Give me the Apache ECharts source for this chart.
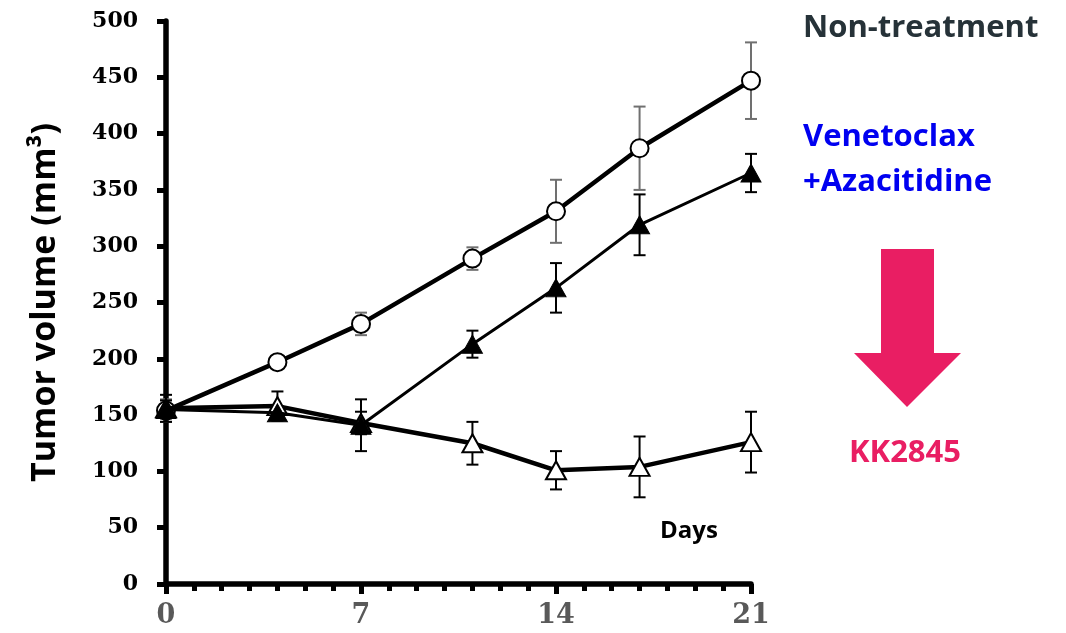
<!DOCTYPE html>
<html>
<head>
<meta charset="utf-8">
<script src="https://cdn.jsdelivr.net/npm/echarts@6/dist/echarts.min.js"></script>
<style>html,body{margin:0;padding:0;background:#fff;}#chart{width:1066px;height:633px;}</style>
</head>
<body>
<div id="chart"></div>
<script>
// Data
var days = [0, 4, 7, 11, 14, 17, 21];
var ntMean = [154, 197, 231, 289, 331, 387, 447];
var ntErr  = [10, 5, 10, 10, 28, 37, 34];
var vaMean = [155, 152, 141, 213, 263, 319, 365];
var vaErr  = [8, 6, 23, 12, 22, 27, 17];
var kkMean = [156, 158, 143, 125, 101, 104, 126];
var kkErr  = [12, 13, 10, 19, 17, 27, 27];
var yTicks = [0, 50, 100, 150, 200, 250, 300, 350, 400, 450, 500];
var xTicks = [0, 7, 14, 21];
var seriesNames = ['Non-treatment', 'Venetoclax\n+Azacitidine', 'KK2845'];

function pairs(m) { return days.map(function (d, i) { return [d, m[i]]; }); }
function errData(m, e) { return days.map(function (d, i) { return [d, m[i] - e[i], m[i] + e[i]]; }); }

function errSeries(m, e, color) {
  return {
    type: 'custom',
    data: errData(m, e),
    z: 1,
    silent: true,
    renderItem: function (params, api) {
      var x = api.value(0);
      var lo = api.coord([x, api.value(1)]);
      var hi = api.coord([x, api.value(2)]);
      var hw = 6;
      var st = { stroke: color, lineWidth: 2 };
      return {
        type: 'group',
        children: [
          { type: 'line', shape: { x1: lo[0], y1: lo[1], x2: hi[0], y2: hi[1] }, style: st },
          { type: 'line', shape: { x1: lo[0] - hw, y1: lo[1], x2: lo[0] + hw, y2: lo[1] }, style: st },
          { type: 'line', shape: { x1: hi[0] - hw, y1: hi[1], x2: hi[0] + hw, y2: hi[1] }, style: st }
        ]
      };
    }
  };
}

var chart = echarts.init(document.getElementById('chart'));
var option = {
  backgroundColor: '#fff',
  animation: false,
  grid: { left: 166, right: 315, top: 21, bottom: 49 },
  xAxis: {
    type: 'value', min: xTicks[0], max: xTicks[xTicks.length - 1], interval: 7,
    axisLine: { show: true, lineStyle: { color: '#000', width: 5.5 } },
    axisTick: { show: true, length: 10, lineStyle: { color: '#000', width: 5 } },
    minorTick: { show: true, splitNumber: 7, length: 7, lineStyle: { color: '#000', width: 5 } },
    splitLine: { show: false },
    axisLabel: { color: '#595959', fontFamily: 'DejaVu Serif', fontWeight: 'bold', fontSize: 27, margin: 18 }
  },
  yAxis: {
    type: 'value', min: yTicks[0], max: yTicks[yTicks.length - 1], interval: 50,
    name: 'Tumor volume (mm³)', nameLocation: 'middle', nameRotate: 90, nameGap: 104,
    nameTextStyle: { color: '#000', fontFamily: 'Open Sans', fontWeight: 'bold', fontSize: 34 },
    axisLine: { show: true, lineStyle: { color: '#000', width: 5.5 } },
    axisTick: { show: true, length: 9, lineStyle: { color: '#000', width: 5 } },
    splitLine: { show: false },
    axisLabel: { color: '#000', fontFamily: 'DejaVu Serif', fontWeight: 'bold', fontSize: 22, margin: 28 }
  },
  series: [
    errSeries(ntMean, ntErr, '#707070'),
    errSeries(kkMean, kkErr, '#000'),
    errSeries(vaMean, vaErr, '#000'),
    {
      name: seriesNames[0], type: 'line', data: pairs(ntMean), z: 3,
      lineStyle: { color: '#000', width: 4.5 },
      symbol: 'circle', symbolSize: 18,
      itemStyle: { color: '#fff', borderColor: '#000', borderWidth: 2 }
    },
    {
      name: seriesNames[2], type: 'line', data: pairs(kkMean), z: 4,
      lineStyle: { color: '#000', width: 4.5 },
      symbol: 'triangle', symbolSize: [20, 18],
      itemStyle: { color: '#fff', borderColor: '#000', borderWidth: 2 }
    },
    {
      name: seriesNames[1], type: 'line', data: pairs(vaMean), z: 5,
      lineStyle: { color: '#000', width: 3 },
      symbol: 'triangle', symbolSize: [20, 18],
      itemStyle: { color: '#000', borderColor: '#000', borderWidth: 1 }
    }
  ],
  graphic: [
    { type: 'text', left: 803, top: 13, style: { text: seriesNames[0], fill: '#263238', font: 'bold 31px "Open Sans"' } },
    { type: 'text', left: 803, top: 115, style: { text: seriesNames[1], fill: '#0000f0', font: 'bold 31px "Open Sans"', lineHeight: 45 } },
    { type: 'polygon', shape: { points: [[881, 249], [934, 249], [934, 353], [961, 353], [907, 407], [854, 353], [881, 353]] }, style: { fill: '#e91e63' } },
    { type: 'text', x: 905, y: 453, style: { text: seriesNames[2], fill: '#e91e63', font: 'bold 31px "Open Sans"', align: 'center', verticalAlign: 'middle' } },
    { type: 'text', x: 689, y: 531, style: { text: 'Days', fill: '#000', font: 'bold 24px "Open Sans"', align: 'center', verticalAlign: 'middle' } }
  ]
};
chart.setOption(option);
</script>
</body>
</html>
